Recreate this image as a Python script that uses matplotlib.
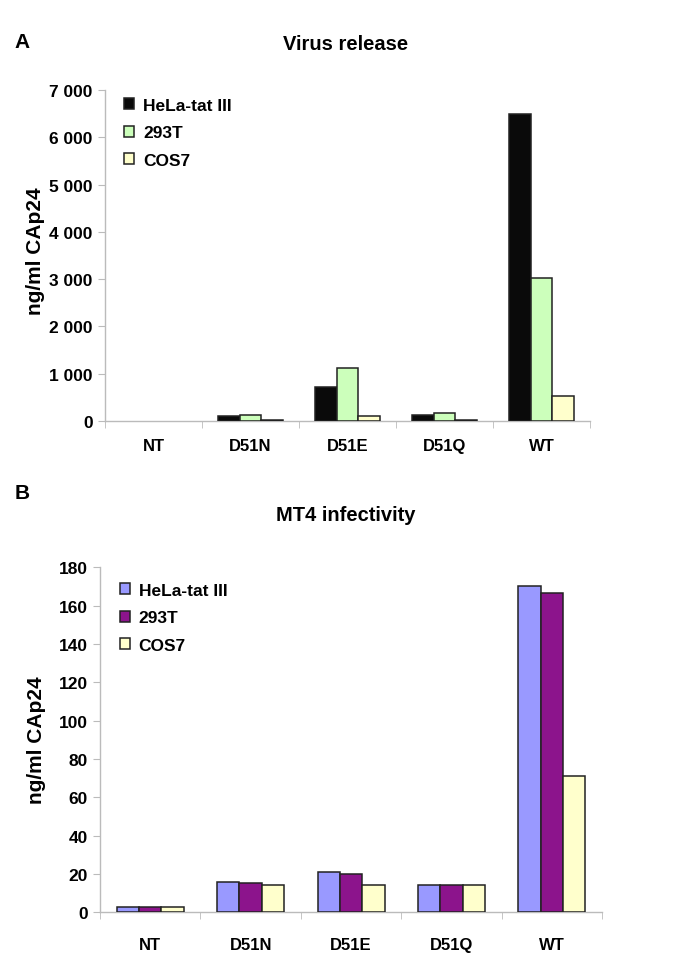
import matplotlib
matplotlib.use('Agg')
import matplotlib.pyplot as plt
import numpy as np

plt.rcParams['font.family'] = ['Liberation Sans', 'DejaVu Sans']
plt.rcParams['font.weight'] = 'bold'

categories = ['NT', 'D51N', 'D51E', 'D51Q', 'WT']
cell_lines = ['HeLa-tat III', '293T', 'COS7']

# Panel A - virus release (ng/ml CAp24)
release_hela = [0, 110, 710, 130, 6490]
release_293t = [0, 130, 1120, 160, 3020]
release_cos7 = [0, 30, 100, 30, 530]

# Panel B - MT4 infectivity (ng/ml CAp24)
infect_hela = [2.5, 16.0, 20.9, 14.3, 170]
infect_293t = [2.5, 15.3, 20.1, 14.3, 166.4]
infect_cos7 = [2.5, 14.1, 14.2, 14.3, 71.3]

colors_a = ['#0a0a0a', '#ccffbb', '#ffffcc']
colors_b = ['#9999ff', '#8c148c', '#ffffcc']


def draw_panel(ax, series, colors, ymax, ystep, fmt, xpad, leg_y):
    x = np.arange(len(categories))
    w = 1 / 4.5
    for i, (vals, col, lab) in enumerate(zip(series, colors, cell_lines)):
        edges = ['#222222' if v > 0 else 'none' for v in vals]
        ax.bar(x + (i - 1) * w, vals, width=w, color=col, edgecolor=edges,
               linewidth=1.1, label=lab, zorder=3)
    ax.set_xlim(-0.5, len(categories) - 0.5)
    ax.set_ylim(0, ymax)
    ticks = np.arange(0, ymax + 1, ystep)
    ax.set_yticks(ticks)
    ax.set_yticklabels([fmt(v) for v in ticks], fontsize=12.5, fontweight='bold')
    ax.set_xticks(x)
    ax.set_xticklabels(categories, fontsize=12, fontweight='bold')
    ax.set_xticks(np.arange(-0.5, len(categories), 1.0), minor=True)
    ax.tick_params(axis='x', which='major', length=0, pad=xpad)
    ax.tick_params(axis='x', which='minor', length=5, color='#bbbbbb', direction='out')
    ax.tick_params(axis='y', length=5, color='#bbbbbb', direction='out', pad=4)
    for s in ['top', 'right']:
        ax.spines[s].set_visible(False)
    for s in ['left', 'bottom']:
        ax.spines[s].set_color('#bbbbbb')
        ax.spines[s].set_linewidth(1.0)
    # legend entries have a black square edge
    handles, labels = ax.get_legend_handles_labels()
    leg = ax.legend(handles, labels, loc='upper left', bbox_to_anchor=(0.025, leg_y),
                    frameon=False, prop={'size': 12.5, 'weight': 'bold'},
                    handlelength=0.6, handleheight=0.6, handletextpad=0.5,
                    labelspacing=0.72, borderaxespad=0)
    for p in leg.get_patches():
        p.set_edgecolor('#222222')
    return leg


fig = plt.figure(figsize=(6.85, 9.78), dpi=100)

ax1 = fig.add_axes([0.1533, 0.5685, 0.708, 0.3384])
draw_panel(ax1, [release_hela, release_293t, release_cos7], colors_a, 7000, 1000,
           lambda v: '0' if v == 0 else f'{int(v) // 1000} 000', 12, 0.998)

ax2 = fig.add_axes([0.146, 0.0662, 0.733, 0.3527])
draw_panel(ax2, [infect_hela, infect_293t, infect_cos7], colors_b, 180, 20,
           lambda v: f'{int(v)}', 18, 0.975)

fig.text(0.021, 0.957, 'A', fontsize=15, fontweight='bold', ha='left', va='center')
fig.text(0.505, 0.954, 'Virus release', fontsize=14.5, fontweight='bold', ha='center', va='center')
fig.text(0.052, 0.743, 'ng/ml CAp24', fontsize=15, fontweight='bold', rotation=90,
         ha='center', va='center')

fig.text(0.021, 0.495, 'B', fontsize=15, fontweight='bold', ha='left', va='center')
fig.text(0.505, 0.473, 'MT4 infectivity', fontsize=14.5, fontweight='bold', ha='center', va='center')
fig.text(0.054, 0.243, 'ng/ml CAp24', fontsize=15, fontweight='bold', rotation=90,
         ha='center', va='center')

fig.savefig('out.png', dpi=100)
